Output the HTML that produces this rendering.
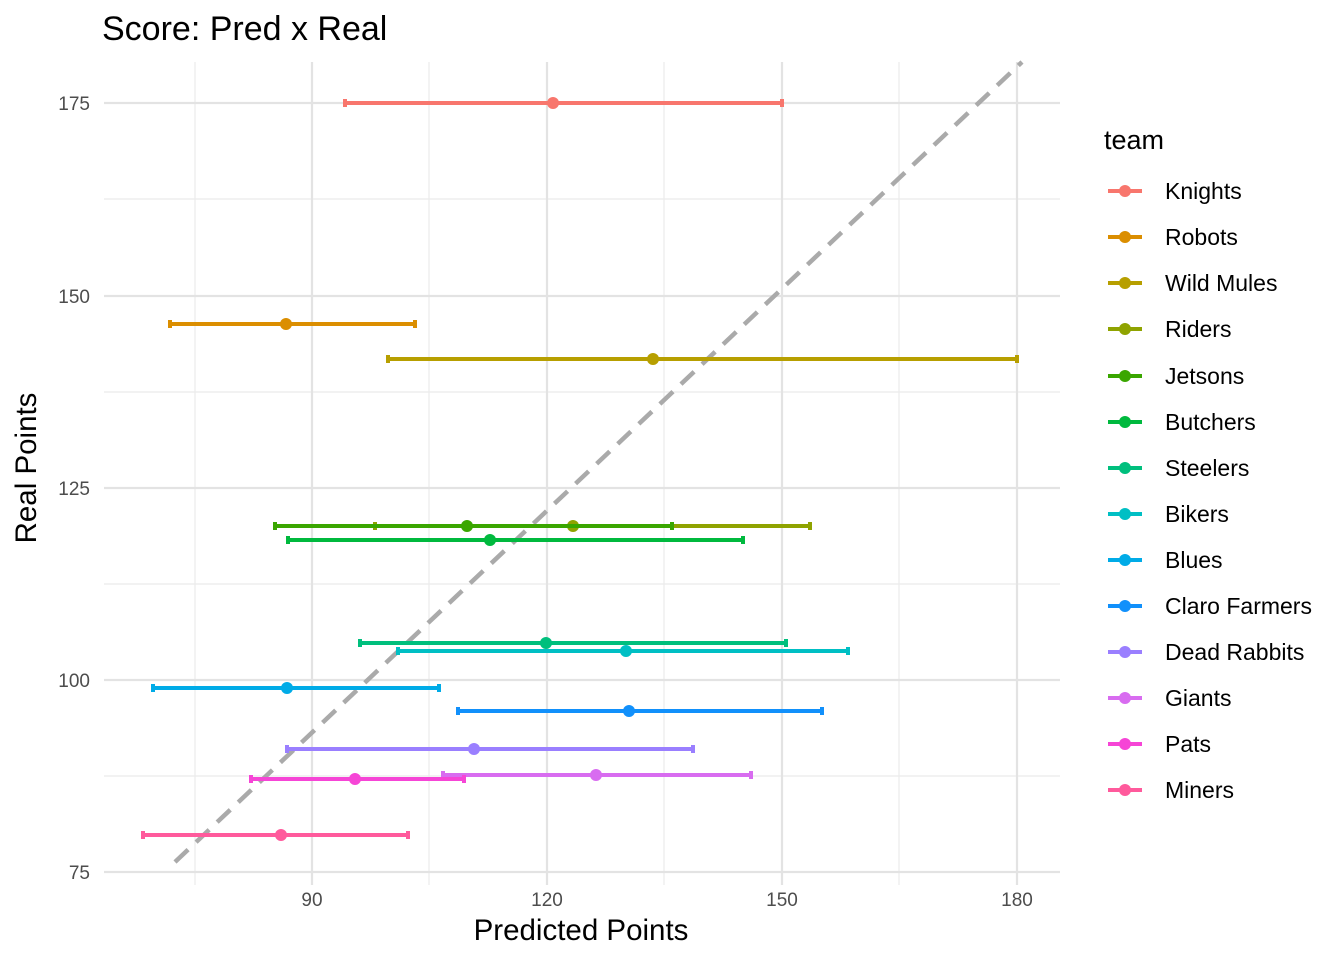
<!DOCTYPE html>
<html><head><meta charset="utf-8"><style>body{margin:0;background:#fff}svg{display:block}</style></head>
<body>
<svg width="1344" height="960" xmlns="http://www.w3.org/2000/svg" font-family="Liberation Sans, sans-serif">
<rect width="1344" height="960" fill="#fff"/>
<g stroke="#EBEBEB" stroke-width="1.2">
<line x1="195" y1="62" x2="195" y2="885"/><line x1="429" y1="62" x2="429" y2="885"/><line x1="664" y1="62" x2="664" y2="885"/><line x1="899" y1="62" x2="899" y2="885"/>
<line x1="104" y1="199" x2="1060" y2="199"/><line x1="104" y1="392" x2="1060" y2="392"/><line x1="104" y1="584" x2="1060" y2="584"/><line x1="104" y1="776" x2="1060" y2="776"/>
</g>
<g stroke="#E3E3E3" stroke-width="2.2">
<line x1="312" y1="62" x2="312" y2="885"/><line x1="547" y1="62" x2="547" y2="885"/><line x1="782" y1="62" x2="782" y2="885"/><line x1="1017" y1="62" x2="1017" y2="885"/>
<line x1="104" y1="103" x2="1060" y2="103"/><line x1="104" y1="296" x2="1060" y2="296"/><line x1="104" y1="488" x2="1060" y2="488"/><line x1="104" y1="680" x2="1060" y2="680"/><line x1="104" y1="872" x2="1060" y2="872"/>
</g>
<line x1="175" y1="862" x2="1022" y2="62" stroke="#AAAAAA" stroke-width="4.5" stroke-dasharray="18,11"/>
<g stroke-width="4">
<g stroke="#F8766D" fill="#F8766D"><line x1="345" y1="103" x2="782" y2="103"/><line x1="345" y1="99" x2="345" y2="107"/><line x1="782" y1="99" x2="782" y2="107"/><circle cx="553" cy="103" r="6" stroke="none"/></g>
<g stroke="#DB8E00" fill="#DB8E00"><line x1="170" y1="324" x2="415" y2="324"/><line x1="170" y1="320" x2="170" y2="328"/><line x1="415" y1="320" x2="415" y2="328"/><circle cx="286" cy="324" r="6" stroke="none"/></g>
<g stroke="#B79F00" fill="#B79F00"><line x1="388" y1="359" x2="1017" y2="359"/><line x1="388" y1="355" x2="388" y2="363"/><line x1="1017" y1="355" x2="1017" y2="363"/><circle cx="653" cy="359" r="6" stroke="none"/></g>
<g stroke="#8FA300" fill="#8FA300"><line x1="375" y1="526" x2="810" y2="526"/><line x1="375" y1="522" x2="375" y2="530"/><line x1="810" y1="522" x2="810" y2="530"/><circle cx="573" cy="526" r="6" stroke="none"/></g>
<g stroke="#3AA600" fill="#3AA600"><line x1="275" y1="526" x2="672" y2="526"/><line x1="275" y1="522" x2="275" y2="530"/><line x1="672" y1="522" x2="672" y2="530"/><circle cx="467" cy="526" r="6" stroke="none"/></g>
<g stroke="#00B93E" fill="#00B93E"><line x1="288" y1="540" x2="743" y2="540"/><line x1="288" y1="536" x2="288" y2="544"/><line x1="743" y1="536" x2="743" y2="544"/><circle cx="490" cy="540" r="6" stroke="none"/></g>
<g stroke="#00BF7D" fill="#00BF7D"><line x1="360" y1="643" x2="786" y2="643"/><line x1="360" y1="639" x2="360" y2="647"/><line x1="786" y1="639" x2="786" y2="647"/><circle cx="546" cy="643" r="6" stroke="none"/></g>
<g stroke="#00BFC4" fill="#00BFC4"><line x1="398" y1="651" x2="848" y2="651"/><line x1="398" y1="647" x2="398" y2="655"/><line x1="848" y1="647" x2="848" y2="655"/><circle cx="626" cy="651" r="6" stroke="none"/></g>
<g stroke="#00ABE7" fill="#00ABE7"><line x1="153" y1="688" x2="439" y2="688"/><line x1="153" y1="684" x2="153" y2="692"/><line x1="439" y1="684" x2="439" y2="692"/><circle cx="287" cy="688" r="6" stroke="none"/></g>
<g stroke="#1190FB" fill="#1190FB"><line x1="458" y1="711" x2="822" y2="711"/><line x1="458" y1="707" x2="458" y2="715"/><line x1="822" y1="707" x2="822" y2="715"/><circle cx="629" cy="711" r="6" stroke="none"/></g>
<g stroke="#9A7FFF" fill="#9A7FFF"><line x1="287" y1="749" x2="693" y2="749"/><line x1="287" y1="745" x2="287" y2="753"/><line x1="693" y1="745" x2="693" y2="753"/><circle cx="474" cy="749" r="6" stroke="none"/></g>
<g stroke="#D86CF0" fill="#D86CF0"><line x1="443" y1="775" x2="751" y2="775"/><line x1="443" y1="771" x2="443" y2="779"/><line x1="751" y1="771" x2="751" y2="779"/><circle cx="596" cy="775" r="6" stroke="none"/></g>
<g stroke="#F645D6" fill="#F645D6"><line x1="251" y1="779" x2="464" y2="779"/><line x1="251" y1="775" x2="251" y2="783"/><line x1="464" y1="775" x2="464" y2="783"/><circle cx="355" cy="779" r="6" stroke="none"/></g>
<g stroke="#FF5A9C" fill="#FF5A9C"><line x1="143" y1="835" x2="408" y2="835"/><line x1="143" y1="831" x2="143" y2="839"/><line x1="408" y1="831" x2="408" y2="839"/><circle cx="281" cy="835" r="6" stroke="none"/></g>
</g>
<g font-size="19" fill="#4D4D4D" text-anchor="end">
<text x="90" y="110">175</text><text x="90" y="303">150</text><text x="90" y="495">125</text><text x="90" y="687">100</text><text x="90" y="879">75</text>
</g>
<g font-size="19" fill="#4D4D4D" text-anchor="middle">
<text x="312" y="906">90</text><text x="547" y="906">120</text><text x="782" y="906">150</text><text x="1017" y="906">180</text>
</g>
<text x="102" y="40" font-size="34" fill="#000">Score: Pred x Real</text>
<text x="581" y="940" font-size="29.5" text-anchor="middle" fill="#000">Predicted Points</text>
<text transform="translate(36,468) rotate(-90)" font-size="29.5" text-anchor="middle" fill="#000">Real Points</text>
<text x="1104" y="149" font-size="27" fill="#000">team</text>
<g font-size="23" fill="#000" stroke-width="4">
<g transform="translate(0,191)"><line x1="1108" x2="1142" stroke="#F8766D"/><circle cx="1125" r="6" fill="#F8766D"/><text x="1165" y="8">Knights</text></g>
<g transform="translate(0,237)"><line x1="1108" x2="1142" stroke="#DB8E00"/><circle cx="1125" r="6" fill="#DB8E00"/><text x="1165" y="8">Robots</text></g>
<g transform="translate(0,283)"><line x1="1108" x2="1142" stroke="#B79F00"/><circle cx="1125" r="6" fill="#B79F00"/><text x="1165" y="8">Wild Mules</text></g>
<g transform="translate(0,329)"><line x1="1108" x2="1142" stroke="#8FA300"/><circle cx="1125" r="6" fill="#8FA300"/><text x="1165" y="8">Riders</text></g>
<g transform="translate(0,376)"><line x1="1108" x2="1142" stroke="#3AA600"/><circle cx="1125" r="6" fill="#3AA600"/><text x="1165" y="8">Jetsons</text></g>
<g transform="translate(0,422)"><line x1="1108" x2="1142" stroke="#00B93E"/><circle cx="1125" r="6" fill="#00B93E"/><text x="1165" y="8">Butchers</text></g>
<g transform="translate(0,468)"><line x1="1108" x2="1142" stroke="#00BF7D"/><circle cx="1125" r="6" fill="#00BF7D"/><text x="1165" y="8">Steelers</text></g>
<g transform="translate(0,514)"><line x1="1108" x2="1142" stroke="#00BFC4"/><circle cx="1125" r="6" fill="#00BFC4"/><text x="1165" y="8">Bikers</text></g>
<g transform="translate(0,560)"><line x1="1108" x2="1142" stroke="#00ABE7"/><circle cx="1125" r="6" fill="#00ABE7"/><text x="1165" y="8">Blues</text></g>
<g transform="translate(0,606)"><line x1="1108" x2="1142" stroke="#1190FB"/><circle cx="1125" r="6" fill="#1190FB"/><text x="1165" y="8">Claro Farmers</text></g>
<g transform="translate(0,652)"><line x1="1108" x2="1142" stroke="#9A7FFF"/><circle cx="1125" r="6" fill="#9A7FFF"/><text x="1165" y="8">Dead Rabbits</text></g>
<g transform="translate(0,698)"><line x1="1108" x2="1142" stroke="#D86CF0"/><circle cx="1125" r="6" fill="#D86CF0"/><text x="1165" y="8">Giants</text></g>
<g transform="translate(0,744)"><line x1="1108" x2="1142" stroke="#F645D6"/><circle cx="1125" r="6" fill="#F645D6"/><text x="1165" y="8">Pats</text></g>
<g transform="translate(0,790)"><line x1="1108" x2="1142" stroke="#FF5A9C"/><circle cx="1125" r="6" fill="#FF5A9C"/><text x="1165" y="8">Miners</text></g>
</g>
</svg>
</body></html>
